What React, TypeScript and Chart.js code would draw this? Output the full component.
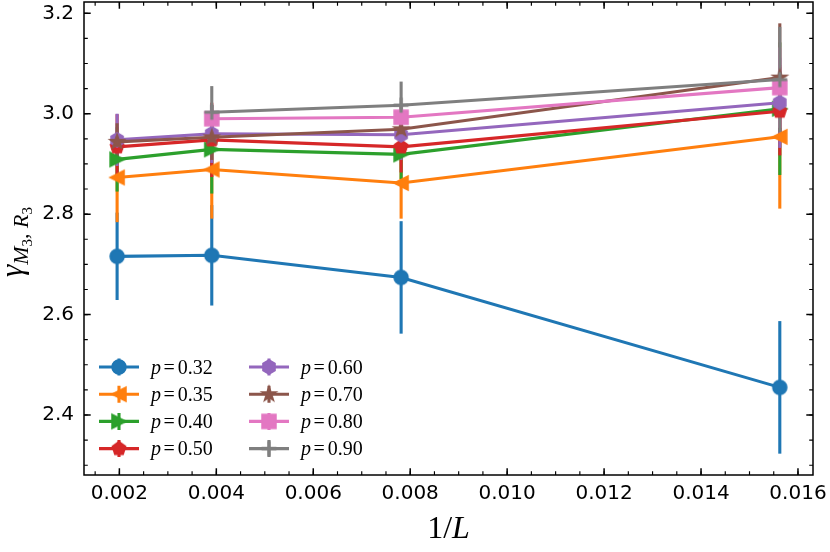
import React, { useRef, useEffect } from 'react';
import Chart from 'chart.js/auto';

// 1/L for L = 512, 256, 128, 64
const invL = [0.001953, 0.003906, 0.0078125, 0.015625];

const pLabels = ['0.32', '0.35', '0.40', '0.50', '0.60', '0.70', '0.80', '0.90'];

// gamma_{M3,R3} and its error bars, one pair of arrays per p
const gammaP032 = [2.716, 2.718, 2.674, 2.455];
const errP032 = [0.087, 0.100, 0.112, 0.132];
const gammaP035 = [2.873, 2.889, 2.862, 2.954];
const errP035 = [0.089, 0.098, 0.071, 0.143];
const gammaP040 = [2.909, 2.929, 2.919, 3.010];
const errP040 = [0.064, 0.088, 0.049, 0.132];
const gammaP050 = [2.934, 2.948, 2.934, 3.005];
const errP050 = [0.065, 0.074, 0.051, 0.088];
const gammaP060 = [2.948, 2.960, 2.958, 3.022];
const errP060 = [0.052, 0.058, 0.050, 0.090];
const gammaP070 = [2.944, 2.953, 2.969, 3.072];
const errP070 = [0.037, 0.045, 0.050, 0.108];
const gammaP080 = [null, 2.990, 2.993, 3.052];
const errP080 = [null, 0.020, 0.020, 0.080];
const gammaP090 = [null, 3.003, 3.017, 3.068];
const errP090 = [null, 0.052, 0.047, 0.105];

const xTicks = [0.002, 0.004, 0.006, 0.008, 0.010, 0.012, 0.014, 0.016];
const yTicks = [2.4, 2.6, 2.8, 3.0, 3.2];

const colors = ['#1f77b4', '#ff7f0e', '#2ca02c', '#d62728', '#9467bd', '#8c564b', '#e377c2', '#7f7f7f'];
const shapes = ['circle', 'triLeft', 'triRight', 'pentagon', 'hexagon', 'star', 'square', 'plus'];

const series = [
  { y: gammaP032, e: errP032 },
  { y: gammaP035, e: errP035 },
  { y: gammaP040, e: errP040 },
  { y: gammaP050, e: errP050 },
  { y: gammaP060, e: errP060 },
  { y: gammaP070, e: errP070 },
  { y: gammaP080, e: errP080 },
  { y: gammaP090, e: errP090 },
];

const LW = 3.1;
const SERIF = '"Liberation Serif", "DejaVu Serif", serif';

function polygon(g: CanvasRenderingContext2D, n: number, r: number) {
  for (let k = 0; k < n; k++) {
    const a = -Math.PI / 2 + (k * 2 * Math.PI) / n;
    if (k === 0) g.moveTo(r * Math.cos(a), r * Math.sin(a));
    else g.lineTo(r * Math.cos(a), r * Math.sin(a));
  }
  g.closePath();
}

function makeMarker(shape: string, color: string): HTMLCanvasElement {
  const c = document.createElement('canvas');
  c.width = 26;
  c.height = 26;
  const g = c.getContext('2d')!;
  g.translate(13, 13);
  g.fillStyle = color;
  g.strokeStyle = color;
  g.lineWidth = 1.7;
  g.lineJoin = 'miter';
  g.beginPath();
  const s = 6.9;
  if (shape === 'circle') {
    g.arc(0, 0, s, 0, Math.PI * 2);
  } else if (shape === 'triLeft') {
    g.moveTo(-s, 0);
    g.lineTo(s, -s);
    g.lineTo(s, s);
    g.closePath();
  } else if (shape === 'triRight') {
    g.moveTo(s, 0);
    g.lineTo(-s, -s);
    g.lineTo(-s, s);
    g.closePath();
  } else if (shape === 'pentagon') {
    polygon(g, 5, s);
  } else if (shape === 'hexagon') {
    polygon(g, 6, s);
  } else if (shape === 'star') {
    const inner = s * 0.382;
    for (let k = 0; k < 10; k++) {
      const a = -Math.PI / 2 + (k * Math.PI) / 5;
      const r = k % 2 === 0 ? s + 0.5 : inner + 0.3;
      if (k === 0) g.moveTo(r * Math.cos(a), r * Math.sin(a));
      else g.lineTo(r * Math.cos(a), r * Math.sin(a));
    }
    g.closePath();
  } else if (shape === 'square') {
    g.rect(-s, -s, 2 * s, 2 * s);
  } else if (shape === 'plus') {
    g.lineWidth = LW;
    g.moveTo(-s - 0.5, 0);
    g.lineTo(s + 0.5, 0);
    g.moveTo(0, -s - 0.5);
    g.lineTo(0, s + 0.5);
    g.stroke();
    return c;
  }
  g.fill();
  g.stroke();
  return c;
}

const App: React.FC = () => {
  const chartRef = useRef<HTMLCanvasElement | null>(null);

  useEffect(() => {
    if (!chartRef.current) return;
    const markers = shapes.map((s, i) => makeMarker(s, colors[i]));

    const errorBars = {
      id: 'errorBars',
      beforeDatasetsDraw(chart: any) {
        const { ctx, chartArea, scales } = chart;
        ctx.save();
        ctx.beginPath();
        ctx.rect(chartArea.left, chartArea.top, chartArea.right - chartArea.left, chartArea.bottom - chartArea.top);
        ctx.clip();
        ctx.lineWidth = LW;
        ctx.lineCap = 'butt';
        series.forEach((s, si) => {
          ctx.strokeStyle = colors[si];
          invL.forEach((xv, i) => {
            const v = s.y[i];
            const e = s.e[i];
            if (v === null || e === null) return;
            const px = scales.x.getPixelForValue(xv);
            ctx.beginPath();
            ctx.moveTo(px, scales.y.getPixelForValue(v - e));
            ctx.lineTo(px, scales.y.getPixelForValue(v + e));
            ctx.stroke();
          });
        });
        ctx.restore();
      },
    };

    const frame = {
      id: 'frame',
      afterDatasetsDraw(chart: any) {
        const { ctx, chartArea: a, scales } = chart;
        ctx.save();
        ctx.strokeStyle = '#000';
        const xs = scales.x;
        const ys = scales.y;
        const tick = (len: number, w: number, xv: number[], yv: number[]) => {
          ctx.lineWidth = w;
          ctx.beginPath();
          xv.forEach((v) => {
            const px = xs.getPixelForValue(v);
            if (px < a.left || px > a.right) return;
            ctx.moveTo(px, a.bottom);
            ctx.lineTo(px, a.bottom - len);
            ctx.moveTo(px, a.top);
            ctx.lineTo(px, a.top + len);
          });
          yv.forEach((v) => {
            const py = ys.getPixelForValue(v);
            if (py < a.top || py > a.bottom) return;
            ctx.moveTo(a.left, py);
            ctx.lineTo(a.left + len, py);
            ctx.moveTo(a.right, py);
            ctx.lineTo(a.right - len, py);
          });
          ctx.stroke();
        };
        const xMinor: number[] = [];
        for (let k = Math.ceil(xs.min / 0.0005); k * 0.0005 <= xs.max; k++) xMinor.push(k * 0.0005);
        const yMinor: number[] = [];
        for (let k = Math.ceil(ys.min / 0.05); k * 0.05 <= ys.max; k++) yMinor.push(k * 0.05);
        tick(3.8, 1.15, xMinor, yMinor);
        tick(6.7, 1.5, xTicks, yTicks);
        ctx.lineWidth = 1.5;
        ctx.strokeRect(a.left, a.top, a.right - a.left, a.bottom - a.top);
        ctx.restore();
      },
    };

    const decorations = {
      id: 'decorations',
      afterDraw(chart: any) {
        const { ctx, chartArea: a } = chart;
        ctx.save();
        // legend
        const rowY0 = a.bottom - 108;
        const rowDy = 27.2;
        series.forEach((_, i) => {
          const col = Math.floor(i / 4);
          const row = i % 4;
          const cx = a.left + 35 + col * 150;
          const cy = rowY0 + row * rowDy;
          ctx.strokeStyle = colors[i];
          ctx.lineWidth = LW;
          ctx.beginPath();
          ctx.moveTo(cx - 20, cy);
          ctx.lineTo(cx + 20, cy);
          ctx.moveTo(cx, cy - 8.5);
          ctx.lineTo(cx, cy + 8.5);
          ctx.stroke();
          const m = markers[i];
          ctx.drawImage(m, cx - m.width / 2, cy - m.height / 2);
          ctx.fillStyle = '#000';
          ctx.textBaseline = 'alphabetic';
          ctx.textAlign = 'left';
          let tx = cx + 32;
          const by = cy + 6.5;
          ctx.font = `italic 20px ${SERIF}`;
          ctx.fillText('p', tx, by);
          tx += ctx.measureText('p').width + 2.5;
          ctx.font = `20px ${SERIF}`;
          ctx.fillText('=', tx, by);
          tx += ctx.measureText('=').width + 3;
          ctx.fillText(pLabels[i], tx, by);
        });

        // x axis title: 1/L
        const xc = (a.left + a.right) / 2;
        const xBase = 538;
        ctx.font = `32px ${SERIF}`;
        const w1 = ctx.measureText('1/').width;
        ctx.font = `italic 32px ${SERIF}`;
        const w2 = ctx.measureText('L').width;
        const x0 = xc - (w1 + w2) / 2;
        ctx.font = `32px ${SERIF}`;
        ctx.fillText('1/', x0, xBase);
        ctx.font = `italic 32px ${SERIF}`;
        ctx.fillText('L', x0 + w1, xBase);

        // y axis title: gamma_{M_3, R_3}
        const parts = [
          { t: '\u03b3', f: `italic 31px ${SERIF}`, dy: 0 },
          { t: 'M', f: `italic 22px ${SERIF}`, dy: 6 },
          { t: '3', f: `15px ${SERIF}`, dy: 10 },
          { t: ', ', f: `22px ${SERIF}`, dy: 6 },
          { t: 'R', f: `italic 22px ${SERIF}`, dy: 6 },
          { t: '3', f: `15px ${SERIF}`, dy: 10 },
        ];
        let total = 0;
        const widths = parts.map((p) => {
          ctx.font = p.f;
          const w = ctx.measureText(p.t).width;
          total += w;
          return w;
        });
        ctx.translate(22, 242);
        ctx.rotate(-Math.PI / 2);
        let px = -total / 2;
        parts.forEach((p, i) => {
          ctx.font = p.f;
          ctx.fillText(p.t, px, p.dy);
          px += widths[i];
        });
        ctx.restore();
      },
    };

    const chart = new Chart(chartRef.current, {
      type: 'line',
      data: {
        datasets: series.map((s, i) => ({
          label: `p = ${pLabels[i]}`,
          data: invL
            .map((x, k) => ({ x, y: s.y[k] }))
            .filter((pt) => pt.y !== null) as { x: number; y: number }[],
          borderColor: colors[i],
          backgroundColor: colors[i],
          borderWidth: LW,
          pointStyle: markers[i] as any,
          pointRadius: 8,
          tension: 0,
          fill: false,
          order: series.length - i,
        })),
      },
      options: {
        animation: false,
        responsive: false,
        events: [],
        layout: { autoPadding: false, padding: { top: 2, right: 17, bottom: 0, left: 0 } },
        scales: {
          x: {
            type: 'linear',
            min: 0.00127,
            max: 0.01631,
            afterFit: (s: any) => {
              s.height = 77;
              s.paddingLeft = 0;
              s.paddingRight = 0;
            },
            grid: { display: false, drawTicks: false },
            border: { display: false },
            ticks: {
              stepSize: 0.002,
              includeBounds: false,
              autoSkip: false,
              maxRotation: 0,
              padding: 7,
              color: '#000',
              font: { family: 'DejaVu Sans', size: 20 },
              callback: (v: any) => Number(v).toFixed(3),
            },
          },
          y: {
            type: 'linear',
            min: 2.2805,
            max: 3.2225,
            afterFit: (s: any) => {
              s.width = 84;
              s.paddingTop = 0;
              s.paddingBottom = 0;
            },
            grid: { display: false, drawTicks: false },
            border: { display: false },
            ticks: {
              stepSize: 0.2,
              includeBounds: false,
              padding: 10,
              color: '#000',
              font: { family: 'DejaVu Sans', size: 20 },
              callback: (v: any) => Number(v).toFixed(1),
            },
          },
        },
        plugins: {
          legend: { display: false },
          tooltip: { enabled: false },
        },
      },
      plugins: [errorBars, frame, decorations],
    });

    return () => {
      chart.destroy();
    };
  }, []);

  return (
    <div style={{ position: 'absolute', left: 0, top: 0, width: 830, height: 552, background: '#fff' }}>
      <canvas ref={chartRef} width={830} height={552}></canvas>
    </div>
  );
};

export default App;
